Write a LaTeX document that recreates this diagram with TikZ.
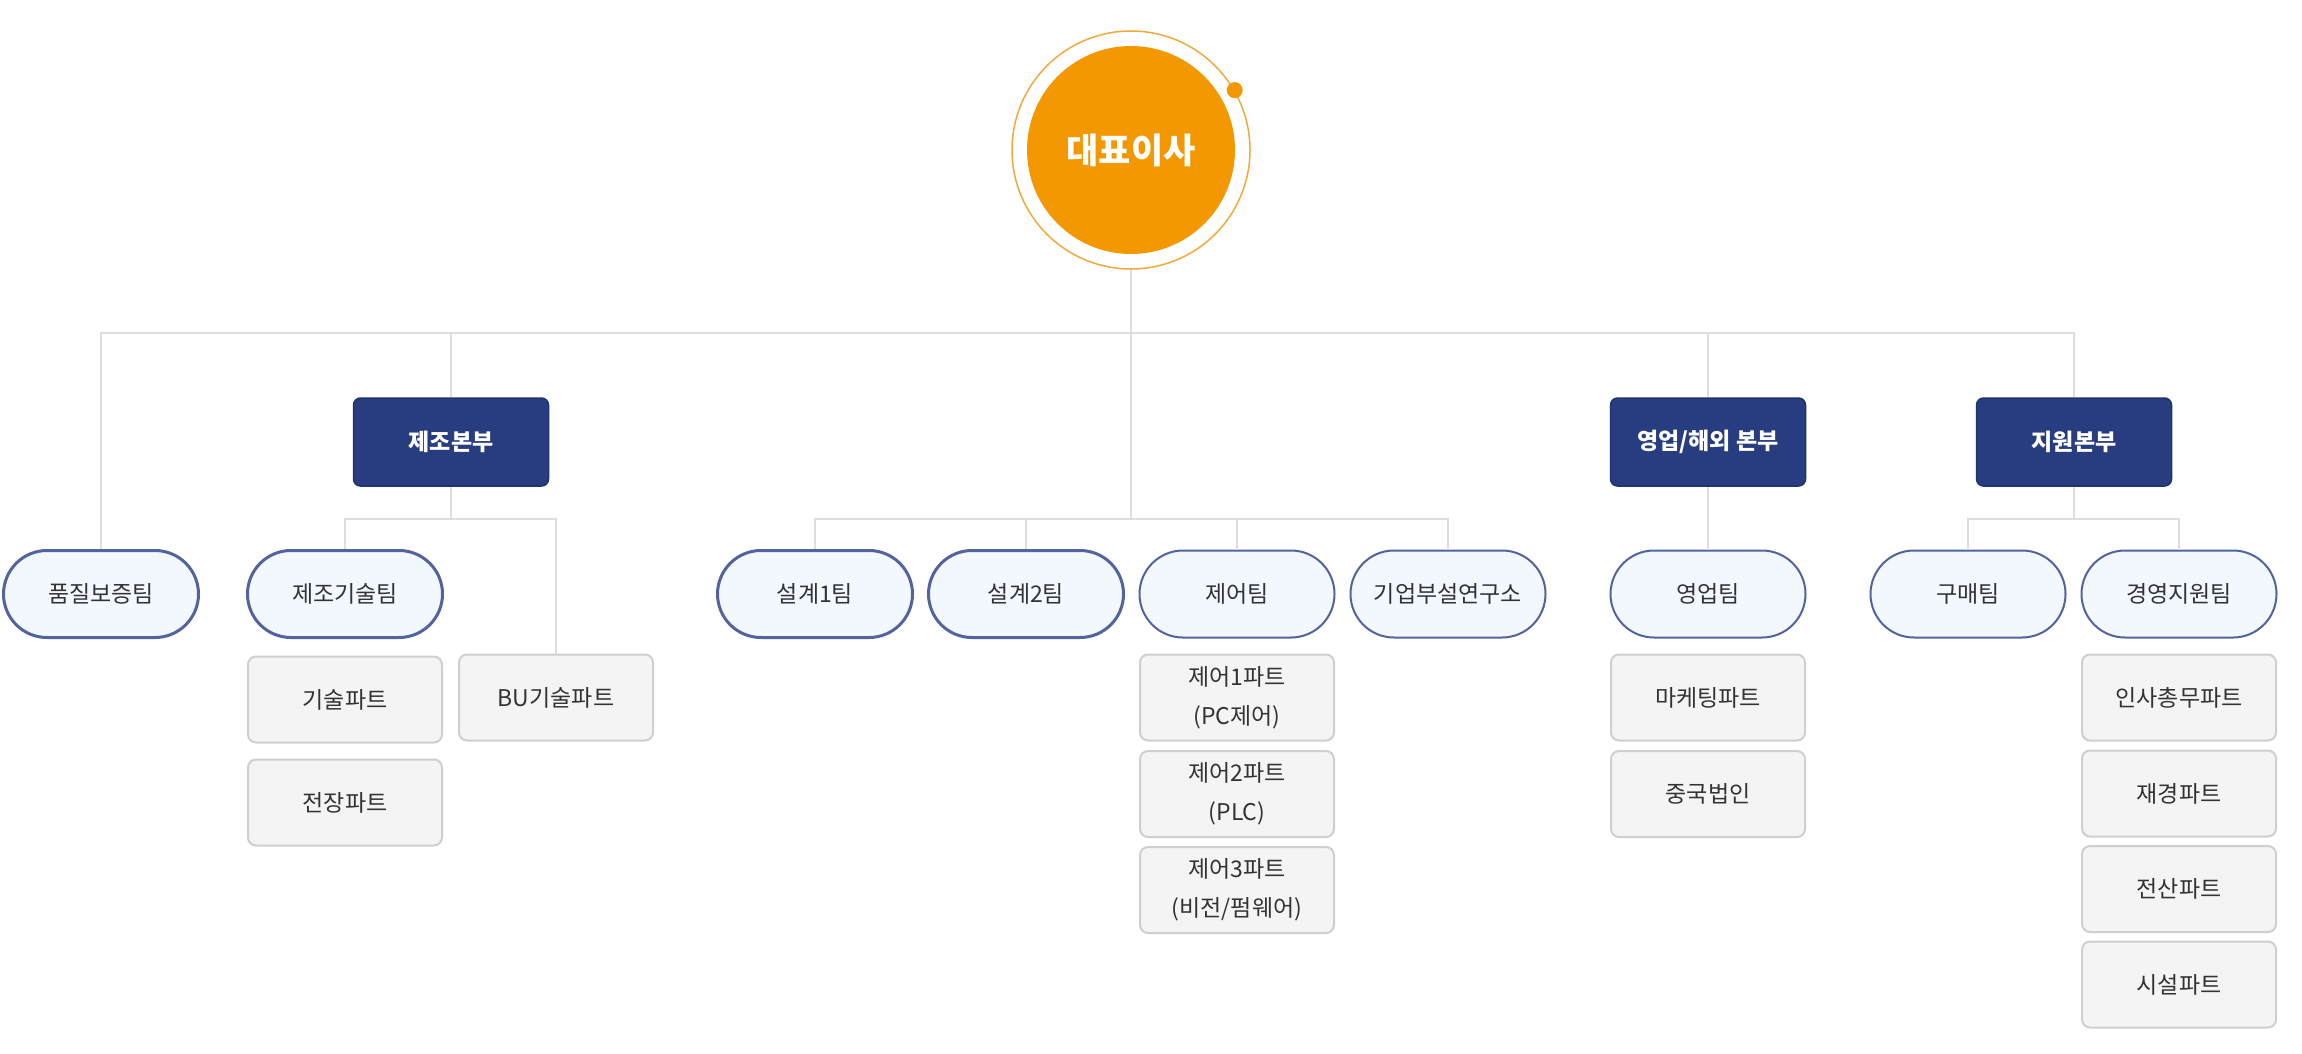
\documentclass[tikz,border=0pt]{standalone}
\usepackage{fontspec}
\setmainfont{Noto Sans CJK KR}
\usepackage{tikz}

\definecolor{ceoorange}{HTML}{F39800}
\definecolor{ringorange}{HTML}{F2A93B}
\definecolor{hqnavy}{HTML}{273D80}
\definecolor{hqedge}{HTML}{1F3370}
\definecolor{teamfill}{HTML}{F3F8FE}
\definecolor{teamedge}{HTML}{52639E}
\definecolor{partfill}{HTML}{F4F4F4}
\definecolor{partedge}{HTML}{CFCFCF}
\definecolor{linegray}{HTML}{DEDEDE}
\definecolor{textgray}{HTML}{333333}

\begin{document}
\begin{tikzpicture}[x=1pt,y=-1pt,
  link/.style={draw=linegray,line width=2pt},
  hq/.style={rectangle,rounded corners=7pt,fill=hqnavy,draw=hqedge,line width=1.5pt,
    minimum width=195pt,minimum height=88pt,inner sep=0pt,text=white,
    font=\bfseries\fontsize{23}{27}\selectfont},
  team/.style={rectangle,rounded corners=43.5pt,fill=teamfill,draw=teamedge,line width=2pt,
    minimum width=195pt,minimum height=87pt,inner sep=0pt,text=textgray,
    font=\fontsize{23}{27}\selectfont},
  teamthick/.style={team,line width=3pt},
  part/.style={rectangle,rounded corners=8pt,fill=partfill,draw=partedge,line width=2pt,
    minimum width=194pt,minimum height=86pt,inner sep=0pt,text=textgray,align=center,
    font=\fontsize{23}{39}\selectfont}]
\useasboundingbox (0,0) rectangle (2302,1053);

% ceo
\node[circle,draw=ringorange,line width=1.5pt,minimum size=238pt,inner sep=0pt] (ceoring) at (1131,150) {};
\node[circle,fill=ceoorange,minimum size=208pt,inner sep=0pt,text=white,
  font=\bfseries\fontsize{35}{40}\selectfont] (ceo) at (1131,150) {대표이사};
\fill[ceoorange] (ceoring.30) circle (8pt);

% headquarters
\node[hq] (mfg) at (451,442) {제조본부};
\node[hq] (sales) at (1708,442) {영업/해외 본부};
\node[hq] (sup) at (2074,442) {지원본부};

% teams
\node[teamthick] (qa) at (101,594) {품질보증팀};
\node[teamthick] (mtech) at (345,594) {제조기술팀};
\node[teamthick] (d1) at (815,594) {설계1팀};
\node[teamthick] (d2) at (1026,594) {설계2팀};
\node[team] (ctrl) at (1237,594) {제어팀};
\node[team] (lab) at (1448,594) {기업부설연구소};
\node[team] (steam) at (1708,594) {영업팀};
\node[team] (buy) at (1968,594) {구매팀};
\node[team] (mgmt) at (2179,594) {경영지원팀};

% parts
\node[part] (tech) at (345,699.5) {기술파트};
\node[part] (elec) at (345,802.5) {전장파트};
\node[part] (bu) at (556,697.5) {BU기술파트};
\node[part] (c1) at (1237,697.5) {제어1파트\\(PC제어)};
\node[part] (c2) at (1237,794) {제어2파트\\(PLC)};
\node[part] (c3) at (1237,890) {제어3파트\\(비전/펌웨어)};
\node[part] (mkt) at (1708,697.5) {마케팅파트};
\node[part] (china) at (1708,794) {중국법인};
\node[part] (hr) at (2179,697.5) {인사총무파트};
\node[part] (fin) at (2179,793.5) {재경파트};
\node[part] (it) at (2179,889) {전산파트};
\node[part] (fac) at (2179,984.5) {시설파트};

% connectors
\coordinate (top) at (0,333);
\coordinate (sub) at (0,519);
\draw[link] (qa.north) |- (ceoring |- top) -| (sup.north);
\draw[link] (mfg.north) -- (mfg |- top);
\draw[link] (sales.north) -- (sales |- top);
\draw[link] (ceoring.south) -- (ceoring |- sub);
\draw[link] (d1.north) |- (ceoring |- sub) -| (lab.north);
\draw[link] (d2.north) -- (d2 |- sub);
\draw[link] (ctrl.north) -- (ctrl |- sub);
\draw[link] (mfg.south) -- (mfg |- sub);
\draw[link] (mtech.north) |- (mfg |- sub) -| (bu.north);
\draw[link] (sales.south) -- (steam.north);
\draw[link] (sup.south) -- (sup |- sub);
\draw[link] (buy.north) |- (sup |- sub) -| (mgmt.north);
\end{tikzpicture}
\end{document}
